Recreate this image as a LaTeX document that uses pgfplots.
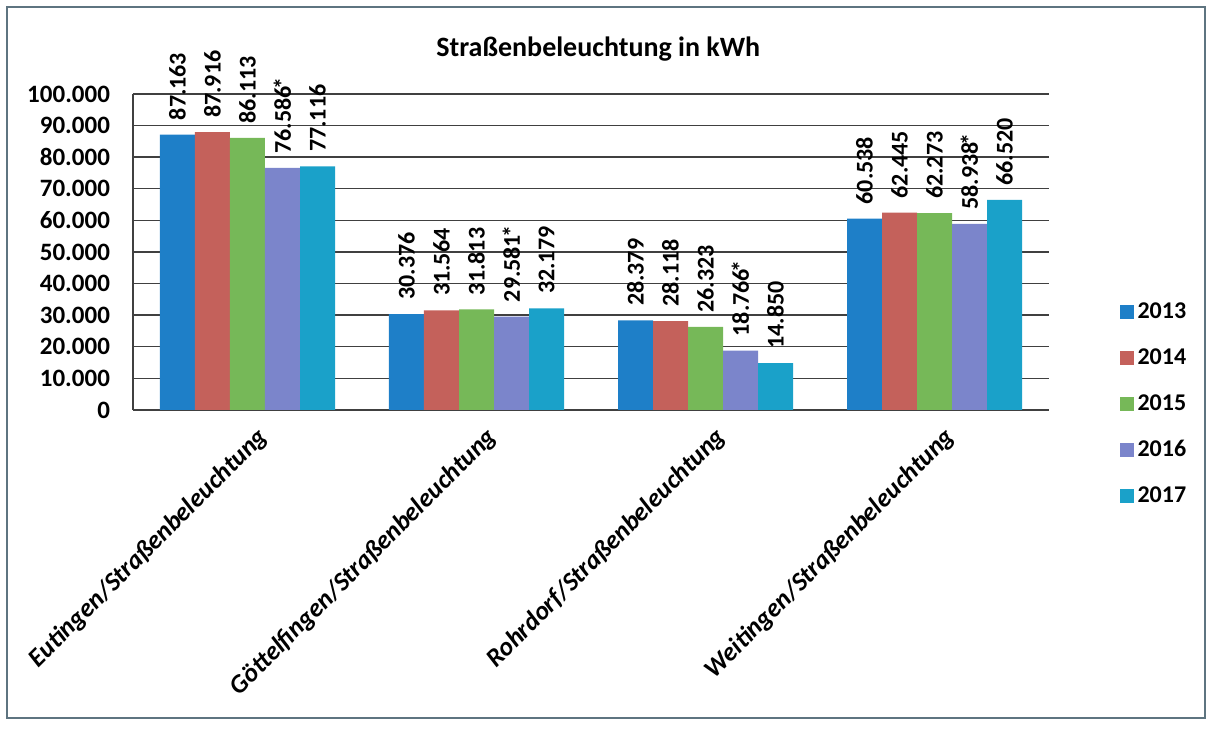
\documentclass[border=0pt]{standalone}
\usepackage{fontspec}
\setmainfont{Carlito}
\usepackage{pgfplots}
\pgfplotsset{compat=1.18}

\definecolor{yA}{HTML}{1E7FC8}
\definecolor{yB}{HTML}{C4615B}
\definecolor{yC}{HTML}{76B858}
\definecolor{yD}{HTML}{7B85CB}
\definecolor{yE}{HTML}{1AA1C9}
\definecolor{framecol}{HTML}{5E7480}

\pgfkeys{/pgf/number format/.cd, fixed, precision=0, 1000 sep={.}, assume math mode=true}

\begin{document}
\begin{tikzpicture}
\useasboundingbox (-66.5pt,-160.5pt) rectangle (541pt,205pt);
\draw[framecol, line width=0.8pt] (-63pt,-154pt) rectangle (536pt,201.5pt);
\begin{axis}[
  at={(0pt,0pt)}, anchor=south west,
  scale only axis, width=458pt, height=158pt,
  xmin=-0.5, xmax=3.5, ymin=0, ymax=100000,
  ybar=0pt, bar width=17.5pt,
  xtick={0,1,2,3},
  xticklabels={Eutingen/Straßenbeleuchtung, Göttelfingen/Straßenbeleuchtung, Rohrdorf/Straßenbeleuchtung, Weitingen/Straßenbeleuchtung},
  xticklabel style={rotate=45, anchor=east, font=\bfseries\itshape\fontsize{13}{16}\selectfont, xshift=1pt, yshift=-14pt},
  ytick={0,10000,...,100000},
  scaled y ticks=false,
  yticklabel style={font=\bfseries\fontsize{12.5}{15}\selectfont, xshift=-8pt},
  ymajorgrids, grid style={black!75, line width=0.7pt},
  axis x line*=bottom, axis y line*=left,
  axis line style={black!75, line width=0.7pt},
  major tick length=0pt,
  title={Straßenbeleuchtung in kWh},
  title style={at={(0.508,1.105)}, anchor=center, font=\bfseries\fontsize{14}{17}\selectfont},
  nodes near coords,
  every node near coord/.append style={rotate=90, anchor=west, inner xsep=7pt, inner ysep=1pt, font=\bfseries\fontsize{12}{14}\selectfont, black},
  legend style={at={(1.07,0.365)}, anchor=north west, draw=none, fill=none, row sep=9.5pt, font=\bfseries\fontsize{12}{14}\selectfont},
  legend cell align=left,
  legend image code/.code={\fill[#1,draw=none] (0pt,-3.5pt) rectangle (7pt,3.5pt);},
]
\addplot[fill=yA, draw=none] coordinates {(0,87163) (1,30376) (2,28379) (3,60538)};
\addplot[fill=yB, draw=none] coordinates {(0,87916) (1,31564) (2,28118) (3,62445)};
\addplot[fill=yC, draw=none] coordinates {(0,86113) (1,31813) (2,26323) (3,62273)};
\addplot[fill=yD, draw=none, nodes near coords={\pgfmathprintnumber{\pgfplotspointmeta}\kern-1.5pt*}] coordinates {(0,76586) (1,29581) (2,18766) (3,58938)};
\addplot[fill=yE, draw=none] coordinates {(0,77116) (1,32179) (2,14850) (3,66520)};
\legend{2013,2014,2015,2016,2017}
\end{axis}
\end{tikzpicture}
\end{document}
